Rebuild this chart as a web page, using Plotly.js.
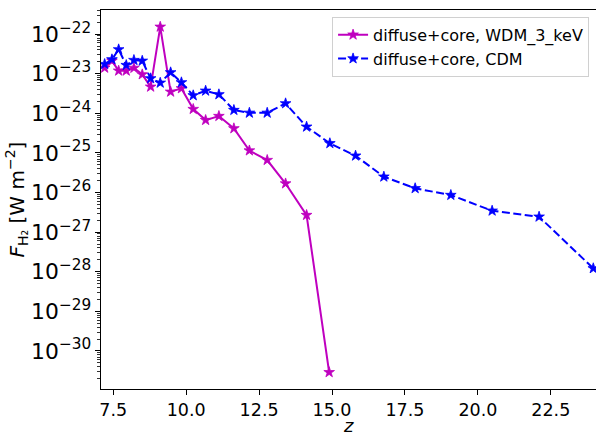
<!DOCTYPE html>
<html>
<head>
<meta charset="utf-8">
<script src="https://cdn.plot.ly/plotly-3.0.1.min.js"></script>
<style>html,body{margin:0;padding:0;background:#fff;}#chart{width:596px;height:437px;}</style>
</head>
<body>
<div id="chart"></div>
<script>
// redshift grid shared by both runs
const zWDM = [7.205, 7.455, 7.685, 7.946, 8.209, 8.494, 8.782, 9.111, 9.467, 9.837, 10.242, 10.667, 11.122, 11.636, 12.167, 12.778, 13.408, 14.128, 14.902];
const fluxWDM = [1.41e-23, 2.12e-23, 1.19e-23, 1.19e-23, 1.40e-23, 9.6e-24, 4.68e-24, 1.53e-22, 3.5e-24, 4.27e-24, 1.28e-24, 6.76e-25, 8.53e-25, 4.17e-25, 1.15e-25, 6.6e-26, 1.69e-26, 2.7e-27, 2.9e-31];

const zCDM = [7.205, 7.455, 7.685, 7.946, 8.209, 8.494, 8.782, 9.111, 9.467, 9.837, 10.242, 10.667, 11.122, 11.636, 12.167, 12.778, 13.408, 14.128, 14.926, 15.807, 16.777, 17.85, 19.073, 20.489, 22.099, 23.957];
const fluxCDM = [1.75e-23, 2.30e-23, 4.11e-23, 1.65e-23, 2.21e-23, 2.12e-23, 7.62e-24, 5.9e-24, 1.08e-23, 6.04e-24, 2.84e-24, 3.71e-24, 3.01e-24, 1.21e-24, 1.03e-24, 1.03e-24, 1.78e-24, 4.58e-25, 1.75e-25, 8.5e-26, 2.51e-26, 1.28e-26, 8.65e-27, 3.47e-27, 2.45e-27, 1.22e-28];

const seriesNames = ["diffuse+core, WDM_3_keV", "diffuse+core, CDM"];
const xTickVals = [7.5, 10.0, 12.5, 15.0, 17.5, 20.0, 22.5];
const xTitle = "<i>z</i>";

const font = "DejaVu Sans, sans-serif";

const traces = [
  {
    x: zWDM, y: fluxWDM, name: seriesNames[0], type: "scatter", mode: "lines+markers",
    line: {color: "#bf00bf", width: 2},
    marker: {symbol: "star", size: 8, color: "#bf00bf", line: {color: "#bf00bf", width: 0.8}}
  },
  {
    x: zCDM, y: fluxCDM, name: seriesNames[1], type: "scatter", mode: "lines+markers",
    line: {color: "#0000ff", width: 2, dash: "8px,3.5px"},
    marker: {symbol: "star", size: 8, color: "#0000ff", line: {color: "#0000ff", width: 0.8}}
  }
];

const layout = {
  width: 596, height: 437,
  margin: {l: 101, r: 0, t: 10, b: 48, pad: 0},
  paper_bgcolor: "#fff", plot_bgcolor: "#fff",
  font: {family: font, color: "#000", size: 17.5},
  showlegend: true,
  legend: {
    x: 0.986, y: 0.982, xanchor: "right", yanchor: "top",
    bordercolor: "#d0d0d0", borderwidth: 1, bgcolor: "rgba(255,255,255,0.8)",
    font: {family: font, size: 16, color: "#000"},
    tracegroupgap: 2
  },
  xaxis: {
    range: [7.08, 24.05],
    tickvals: xTickVals, ticktext: xTickVals.map(v => v.toFixed(1)),
    ticks: "outside", ticklen: 5, tickwidth: 1, tickcolor: "#000",
    showline: true, linecolor: "#000", linewidth: 1.3, mirror: true,
    showgrid: false, zeroline: false,
    tickfont: {family: font, size: 17.5}
  },
  yaxis: {
    type: "log", range: [-30.96, -21.39],
    dtick: 1, exponentformat: "power",
    ticks: "outside", ticklen: 5, tickwidth: 1, tickcolor: "#000",
    minor: {ticks: "outside", ticklen: 2.5, tickcolor: "#000", tickwidth: 0.8, showgrid: false},
    showline: true, linecolor: "#000", linewidth: 1.3, mirror: true,
    showgrid: false, zeroline: false,
    tickfont: {family: font, size: 17.5},
    title: {text: "<i>F</i><sub>H₂</sub> [W m<sup>−2</sup>]", font: {family: font, size: 20}, standoff: 0}
  },
  annotations: [{
    text: xTitle, xref: "paper", yref: "paper", x: 0.5, y: -0.063,
    xanchor: "center", yanchor: "top", showarrow: false,
    font: {family: font, size: 18, color: "#000"}
  }]
};

Plotly.newPlot("chart", traces, layout, {staticPlot: true, displayModeBar: false});
</script>
</body>
</html>
